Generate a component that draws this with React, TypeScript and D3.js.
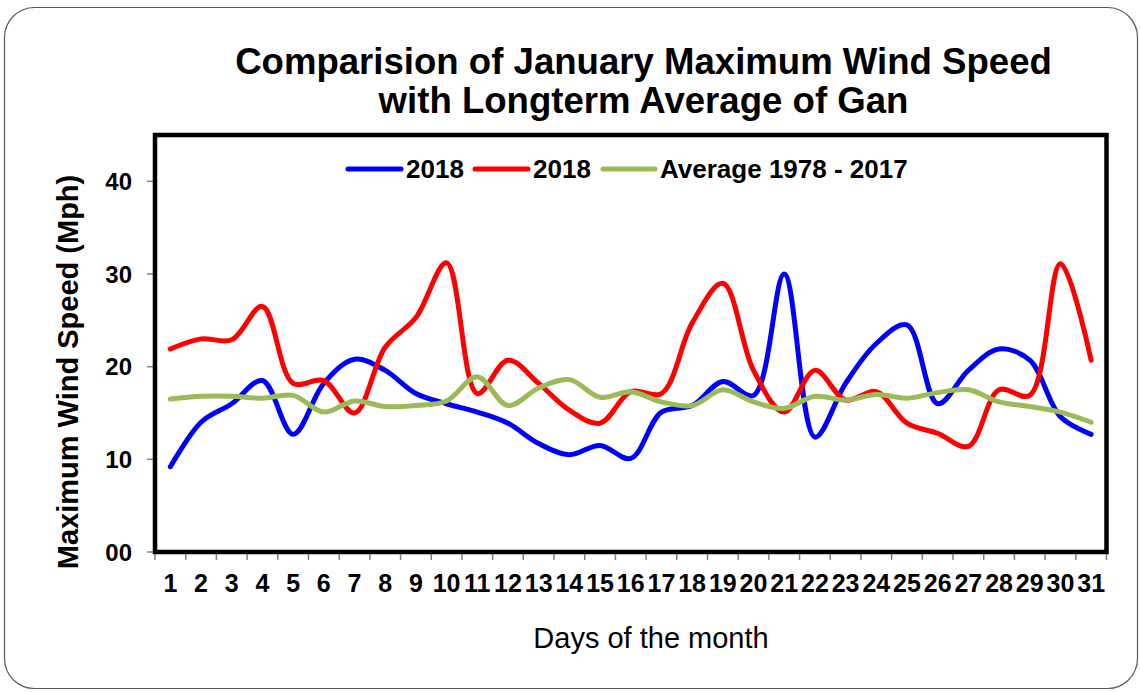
import * as d3 from "d3";

const days = d3.range(1, 32).map(String);

const blue2018 = [9.2, 14.0, 16.0, 18.5, 12.7, 18.2, 20.8, 19.6, 17.1, 16.0, 15.1, 13.9, 11.7, 10.5, 11.5, 10.1, 15.1, 15.8, 18.4, 16.9, 30.0, 12.4, 18.2, 22.5, 24.5, 16.0, 19.6, 21.9, 20.7, 14.6, 12.7];
const red2018 = [21.9, 23.0, 22.9, 26.5, 18.2, 18.5, 15.0, 22.1, 25.3, 31.2, 17.1, 20.7, 18.2, 15.3, 13.9, 17.3, 17.1, 24.7, 29.0, 19.6, 15.1, 19.6, 16.4, 17.3, 13.9, 12.8, 11.4, 17.5, 16.9, 31.1, 20.7];
const avg7817 = [16.5, 16.8, 16.8, 16.6, 16.9, 15.1, 16.3, 15.7, 15.8, 16.3, 18.9, 15.8, 17.7, 18.6, 16.7, 17.3, 16.2, 15.8, 17.5, 16.2, 15.5, 16.8, 16.4, 17.0, 16.6, 17.2, 17.5, 16.2, 15.7, 15.1, 14.0];

const yTicks = [0, 10, 20, 30, 40];

const seriesList = [
  { name: "2018", color: "#0000ff", values: blue2018 },
  { name: "2018", color: "#ff0000", values: red2018 },
  { name: "Average 1978 - 2017", color: "#9bbb59", values: avg7817 },
];

const W = 1140;
const H = 692;
const font = "'Liberation Sans', Arial, sans-serif";

export default function App() {
  const plot = { left: 155, right: 1106.5, top: 135, bottom: 552 };

  const x = d3.scaleBand<string>().domain(days).range([plot.left, plot.right]).padding(0);
  const y = d3.scaleLinear().domain([0, 45]).range([plot.bottom, plot.top]);

  const line = d3
    .line<number>()
    .x((_, i) => (x(days[i]) as number) + x.bandwidth() / 2)
    .y((d) => y(d))
    .curve(d3.curveCatmullRom.alpha(0.5));

  const tickXs = days.map((d) => x(d) as number).concat([plot.right]);

  // legend layout
  const legendItems = [
    { x0: 348, x1: 401, tx: 406 },
    { x0: 475, x1: 528, tx: 533 },
    { x0: 603, x1: 655, tx: 660 },
  ];

  return (
    <svg width={W} height={H} style={{ position: "absolute", left: 0, top: 0 }} fontFamily={font}>
      <rect x={0} y={0} width={W} height={H} fill="#fff" />
      <rect x={4.5} y={7.5} width={1133} height={681} rx={30} ry={30} fill="#fff" stroke="#595959" strokeWidth={1.2} />

      <text x={643.5} y={74} textAnchor="middle" fontSize={36.6} fontWeight="bold">
        Comparision of January Maximum Wind Speed
      </text>
      <text x={643.5} y={113} textAnchor="middle" fontSize={36.6} fontWeight="bold">
        with Longterm Average of Gan
      </text>

      {/* y ticks */}
      {yTicks.map((t) => (
        <g key={t}>
          <line x1={147} x2={plot.left} y1={y(t)} y2={y(t)} stroke="#808080" strokeWidth={1.5} />
          <text x={132} y={y(t)} dy="0.36em" textAnchor="end" fontSize={24} fontWeight="bold">
            {d3.format("02d")(t)}
          </text>
        </g>
      ))}

      {/* x ticks */}
      {tickXs.map((tx, i) => (
        <line key={i} x1={tx} x2={tx} y1={plot.bottom} y2={plot.bottom + 8} stroke="#808080" strokeWidth={1.5} />
      ))}
      {days.map((d) => (
        <text key={d} x={(x(d) as number) + x.bandwidth() / 2} y={592} textAnchor="middle" fontSize={25} fontWeight="bold">
          {d}
        </text>
      ))}

      {seriesList.map((s, i) => (
        <path key={i} d={line(s.values) || ""} fill="none" stroke={s.color} strokeWidth={5} strokeLinecap="round" strokeLinejoin="round" />
      ))}

      <rect x={plot.left} y={plot.top} width={plot.right - plot.left} height={plot.bottom - plot.top} fill="none" stroke="#000" strokeWidth={4.5} />

      {seriesList.map((s, i) => (
        <g key={i}>
          <line x1={legendItems[i].x0} x2={legendItems[i].x1} y1={169} y2={169} stroke={s.color} strokeWidth={5} strokeLinecap="round" />
          <text x={legendItems[i].tx} y={178} fontSize={26} fontWeight="bold">
            {s.name}
          </text>
        </g>
      ))}

      <text transform="translate(78,372) rotate(-90)" textAnchor="middle" fontSize={29} fontWeight="bold">
        Maximum Wind Speed (Mph)
      </text>
      <text x={651} y={648} textAnchor="middle" fontSize={29}>
        Days of the month
      </text>
    </svg>
  );
}
